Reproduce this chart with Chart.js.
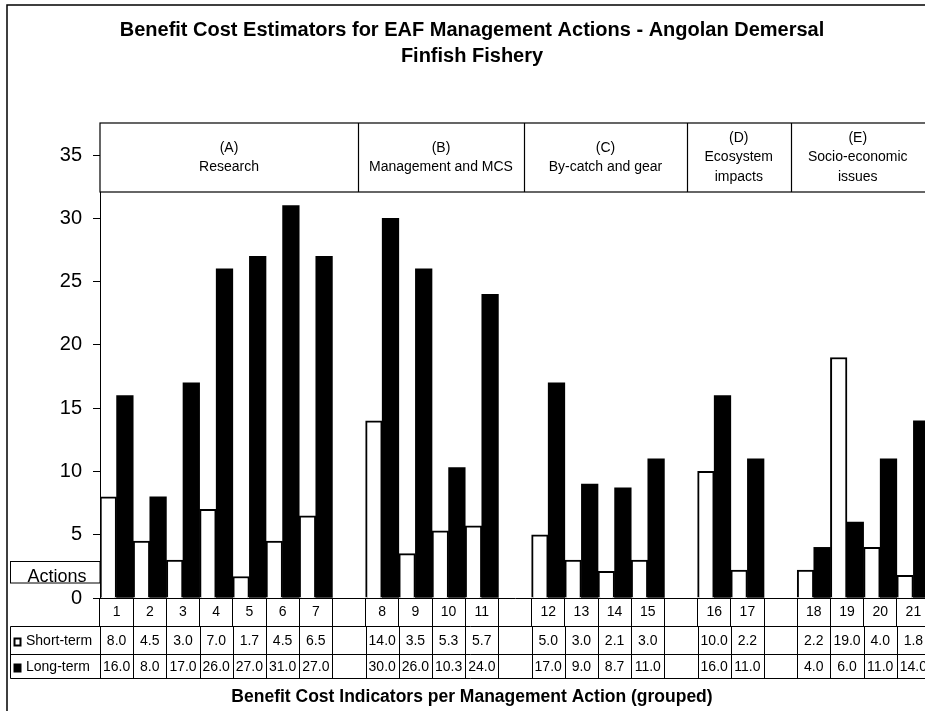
<!DOCTYPE html>
<html lang="en">
<head>
  <meta charset="UTF-8">
  <title>Benefit Cost Estimators</title>
  <script src="https://cdn.jsdelivr.net/npm/chart.js"></script>
  <style>
    html, body { margin: 0; padding: 0; background: #fff; overflow: hidden; }
    #wrap { width: 930px; height: 711px; }
  </style>
</head>
<body>
<div id="wrap"><canvas id="grafico" width="930" height="711"></canvas></div>

<script>
  // categorias (las vacias son los huecos entre grupos)
  const categories = ['1','2','3','4','5','6','7','','8','9','10','11','','12','13','14','15','','16','17','','18','19','20','21'];
  const shortTerm = [8.0, 4.5, 3.0, 7.0, 1.7, 4.5, 6.5, null, 14.0, 3.5, 5.3, 5.7, null, 5.0, 3.0, 2.1, 3.0, null, 10.0, 2.2, null, 2.2, 19.0, 4.0, 1.8];
  const longTerm = [16.0, 8.0, 17.0, 26.0, 27.0, 31.0, 27.0, null, 30.0, 26.0, 10.3, 24.0, null, 17.0, 9.0, 8.7, 11.0, null, 16.0, 11.0, null, 4.0, 6.0, 11.0, 14.0];
  const seriesNames = ['Short-term', 'Long-term'];
  const yMax = 35;
  const yStep = 5;
  const groupLabels = [
    ['(A)', 'Research'],
    ['(B)', 'Management and MCS'],
    ['(C)', 'By-catch and gear'],
    ['(D)', 'Ecosystem', 'impacts'],
    ['(E)', 'Socio-economic', 'issues']
  ];

  const FONT = 'Arial, "Liberation Sans", sans-serif';
  // bordes de los recuadros de grupo, en unidades de columna
  const groupEdges = [0, 7.77, 12.77, 17.68, 20.8, 25.5];

  const tablaPlugin = {
    id: 'tabla',
    afterDraw(chart) {
      const ctx = chart.ctx;
      const x = chart.scales.x;
      const area = chart.chartArea;
      const colX = u => x.getPixelForValue(u - 0.5);

      ctx.save();
      ctx.strokeStyle = '#000';

      // borde exterior
      ctx.lineWidth = 1.5;
      ctx.beginPath();
      ctx.moveTo(7, 711); ctx.lineTo(7, 5); ctx.lineTo(930, 5);
      ctx.stroke();

      // recuadro de grupos
      ctx.lineWidth = 1.2;
      const top = 123, bot = 192;
      ctx.fillStyle = '#fff';
      ctx.fillRect(area.left, top, area.right - area.left, bot - top);
      ctx.strokeRect(area.left, top, area.right - area.left + 10, bot - top);
      ctx.font = '14px ' + FONT;
      ctx.textAlign = 'center';
      ctx.textBaseline = 'middle';
      groupLabels.forEach((lines, g) => {
        const a = colX(groupEdges[g]);
        const b = colX(groupEdges[g + 1]);
        if (g > 0) {
          ctx.beginPath(); ctx.moveTo(Math.round(a) + 0.5, top); ctx.lineTo(Math.round(a) + 0.5, bot); ctx.stroke();
        }
        const cx = g === groupLabels.length - 1 ? (a + 925) / 2 : (a + b) / 2;
        const step = 19.5;
        const y0 = (top + bot) / 2 - (lines.length - 1) * step / 2;
        ctx.fillStyle = '#000';
        lines.forEach((t, i) => ctx.fillText(t, cx, y0 + i * step));
      });

      // recuadro "Actions"
      ctx.lineWidth = 1;
      ctx.fillStyle = '#fff';
      ctx.fillRect(10.5, 561.5, 89.5, 21.5);
      ctx.strokeRect(10.5, 561.5, 89.5, 21.5);
      ctx.fillStyle = '#000';
      ctx.font = '18px ' + FONT;
      ctx.textBaseline = 'alphabetic';
      ctx.fillText('Actions', 57, 582);

      // tabla de datos
      const r0 = 626.5, r1 = 654.5, r2 = 678.5;
      ctx.lineWidth = 1;
      ctx.beginPath();
      [r0, r1, r2].forEach(y => { ctx.moveTo(10.5, y); ctx.lineTo(area.right, y); });
      ctx.moveTo(10.5, r0); ctx.lineTo(10.5, r2);
      for (let i = 0; i <= categories.length; i++) {
        const px = Math.round(colX(i)) + 0.5;
        ctx.moveTo(px, r0); ctx.lineTo(px, r2);
      }
      ctx.stroke();

      // claves de la leyenda
      ctx.lineWidth = 2;
      ctx.strokeRect(14.5, 638.5, 6, 7);
      ctx.fillRect(13.5, 663.5, 8, 9);
      ctx.font = '14px ' + FONT;
      ctx.textAlign = 'left';
      ctx.textBaseline = 'middle';
      ctx.fillText(seriesNames[0], 26, (r0 + r1) / 2 + 1);
      ctx.fillText(seriesNames[1], 26, (r1 + r2) / 2 + 1);

      ctx.textAlign = 'center';
      [shortTerm, longTerm].forEach((serie, s) => {
        const cy = s === 0 ? (r0 + r1) / 2 + 1 : (r1 + r2) / 2 + 1;
        serie.forEach((v, i) => {
          if (v === null) return;
          ctx.fillText(v.toFixed(1), x.getPixelForValue(i), cy);
        });
      });
      ctx.restore();
    }
  };

  new Chart(document.getElementById('grafico'), {
    type: 'bar',
    data: {
      labels: categories,
      datasets: [
        {
          label: seriesNames[0],
          data: shortTerm,
          backgroundColor: '#fff',
          borderColor: '#000',
          borderWidth: 2,
          barPercentage: 1,
          categoryPercentage: 1
        },
        {
          label: seriesNames[1],
          data: longTerm,
          backgroundColor: '#000',
          borderColor: '#000',
          borderWidth: 0,
          barPercentage: 1,
          categoryPercentage: 1
        }
      ]
    },
    options: {
      responsive: false,
      animation: false,
      devicePixelRatio: 1,
      layout: { padding: { left: 14, right: 0, top: 0, bottom: 0 } },
      plugins: {
        legend: { display: false },
        tooltip: { enabled: false },
        title: {
          display: true,
          text: ['Benefit Cost Estimators for EAF Management Actions - Angolan Demersal', 'Finfish Fishery'],
          color: '#000',
          font: { family: FONT, size: 20, weight: 'bold', lineHeight: 26 / 20 },
          padding: { top: 17, bottom: 86 }
        },
        subtitle: {
          display: true,
          position: 'bottom',
          text: 'Benefit Cost Indicators per Management Action (grouped)',
          color: '#000',
          font: { family: FONT, size: 17.5, weight: 'bold', lineHeight: 1.2 },
          padding: { top: 8.4, bottom: 3.6 }
        }
      },
      scales: {
        x: {
          offset: true,
          grid: { offset: true, drawOnChartArea: false, tickLength: 29, color: '#000', lineWidth: 1 },
          border: { display: true, color: '#000', width: 1 },
          ticks: { color: '#000', font: { family: FONT, size: 14 }, padding: -23.4, autoSkip: false, maxRotation: 0 },
          afterFit(scale) { scale.height = 80; }
        },
        y: {
          min: 0,
          max: yMax,
          grid: { drawOnChartArea: false, tickLength: 7, color: '#000' },
          border: { display: true, color: '#000', width: 1 },
          ticks: { stepSize: yStep, color: '#000', font: { family: FONT, size: 20 }, padding: 11 },
          afterFit(scale) { scale.width = 86; }
        }
      }
    },
    plugins: [tablaPlugin]
  });
</script>
</body>
</html>
